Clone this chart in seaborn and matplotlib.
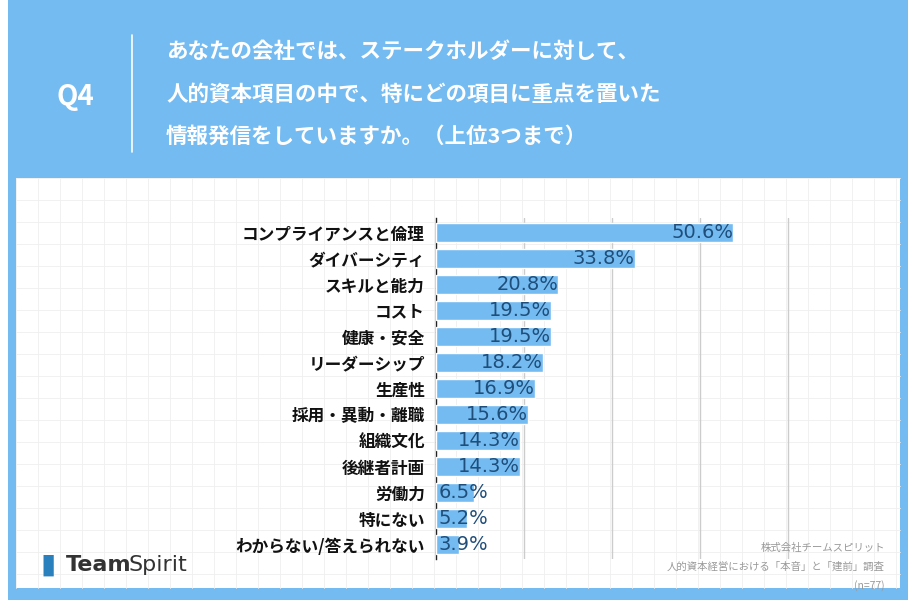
import matplotlib
matplotlib.use('Agg')
import matplotlib.pyplot as plt
import seaborn as sns
import pandas as pd
import numpy as np
from matplotlib.patches import Rectangle

sns.set_theme(style='white')
plt.rcParams['font.family'] = ['Noto Sans CJK JP', 'DejaVu Sans']

# データ
items = ['コンプライアンスと倫理', 'ダイバーシティ', 'スキルと能力', 'コスト', '健康・安全',
         'リーダーシップ', '生産性', '採用・異動・離職', '組織文化', '後継者計画',
         '労働力', '特にない', 'わからない/答えられない']
values = [50.6, 33.8, 20.8, 19.5, 19.5, 18.2, 16.9, 15.6, 14.3, 14.3, 6.5, 5.2, 3.9]
title_lines = ['あなたの会社では、ステークホルダーに対して、',
               '人的資本項目の中で、特にどの項目に重点を置いた',
               '情報発信をしていますか。（上位3つまで）']
source_lines = ['株式会社チームスピリット', '人的資本経営における「本音」と「建前」調査', '(n=77)']

df = pd.DataFrame({'item': items, 'value': values})
W, H = 916, 616
blue = '#74bbf2'

fig = plt.figure(figsize=(W / 100, H / 100), dpi=100)
fig.patch.set_facecolor('white')

# 外枠・白いパネル・薄い方眼（背景用の軸）
bg = fig.add_axes([0, 0, 1, 1], zorder=-5)
bg.set_xlim(0, W)
bg.set_ylim(H, 0)
bg.add_patch(Rectangle((8, 0), 900, 600, facecolor=blue, edgecolor='none'))
bg.add_patch(Rectangle((16, 178), 884, 410, facecolor='white', edgecolor='none'))
for x in np.arange(16, 900, 22):
    bg.plot([x, x], [178, 588], color='#efefef', lw=0.6)
for y in np.arange(178, 588, 22):
    bg.plot([16, 900], [y, y], color='#efefef', lw=0.6)
bg.plot([132, 132], [35, 152], color='white', lw=1.2)
bg.axis('off')

# 見出し
fig.text(75 / W, 1 - 97 / H, 'Q4', color='white', fontsize=20, fontweight='bold', ha='center', va='center')
for i, line in enumerate(title_lines):
    fig.text(166 / W, 1 - (52 + i * 42) / H, line, color='white', fontsize=15.5,
             fontweight='bold', va='center')

# 棒グラフ
x0, x1 = 436, 880
y0, y1 = 218, 559
ax = fig.add_axes([x0 / W, 1 - y1 / H, (x1 - x0) / W, (y1 - y0) / H])
ax.set_facecolor('none')
sns.barplot(data=df, x='value', y='item', color=blue, saturation=1, width=0.72, ax=ax, zorder=3)
ax.set_xlim(0, 75.6)
ax.set_ylim(len(items) - 0.45, -0.55)
for gx in [15, 30, 45, 60]:
    ax.axvline(gx, color='#cccccc', lw=1, zorder=1)
for i, v in enumerate(values):
    if v < 10:
        ax.text(0.5, i, f'{v:.1f}%', ha='left', va='center', color='#1f4e7a', fontsize=14,
                family=['DejaVu Sans'], zorder=4)
    else:
        ax.text(v, i, f'{v:.1f}%', ha='right', va='center', color='#1f4e7a', fontsize=14,
                family=['DejaVu Sans'], zorder=4)
ax.set_xlabel('')
ax.set_ylabel('')
ax.set_xticks([])
ax.tick_params(axis='y', length=0, pad=8)
for lab in ax.get_yticklabels():
    lab.set_fontsize(12)
    lab.set_fontweight('bold')
    lab.set_color('#111111')
for s in ['top', 'right', 'bottom']:
    ax.spines[s].set_visible(False)
ax.spines['left'].set_color('#222222')
ax.spines['left'].set_linewidth(1)

# ロゴと出典
fig.text(40 / W, 1 - 565 / H, '▮', color='#2a7fbd', fontsize=20, va='center')
fig.text(66 / W, 1 - 565 / H, 'Team', color='#333333', fontsize=16, fontweight='bold', va='center',
         family=['DejaVu Sans'])
fig.text(128 / W, 1 - 565 / H, 'Spirit', color='#333333', fontsize=16, va='center', family=['DejaVu Sans'])
for i, line in enumerate(source_lines):
    fig.text(885 / W, 1 - (548 + i * 19) / H, line, color='#999999', fontsize=7.5, ha='right', va='center')

fig.savefig('out.png', dpi=100)
